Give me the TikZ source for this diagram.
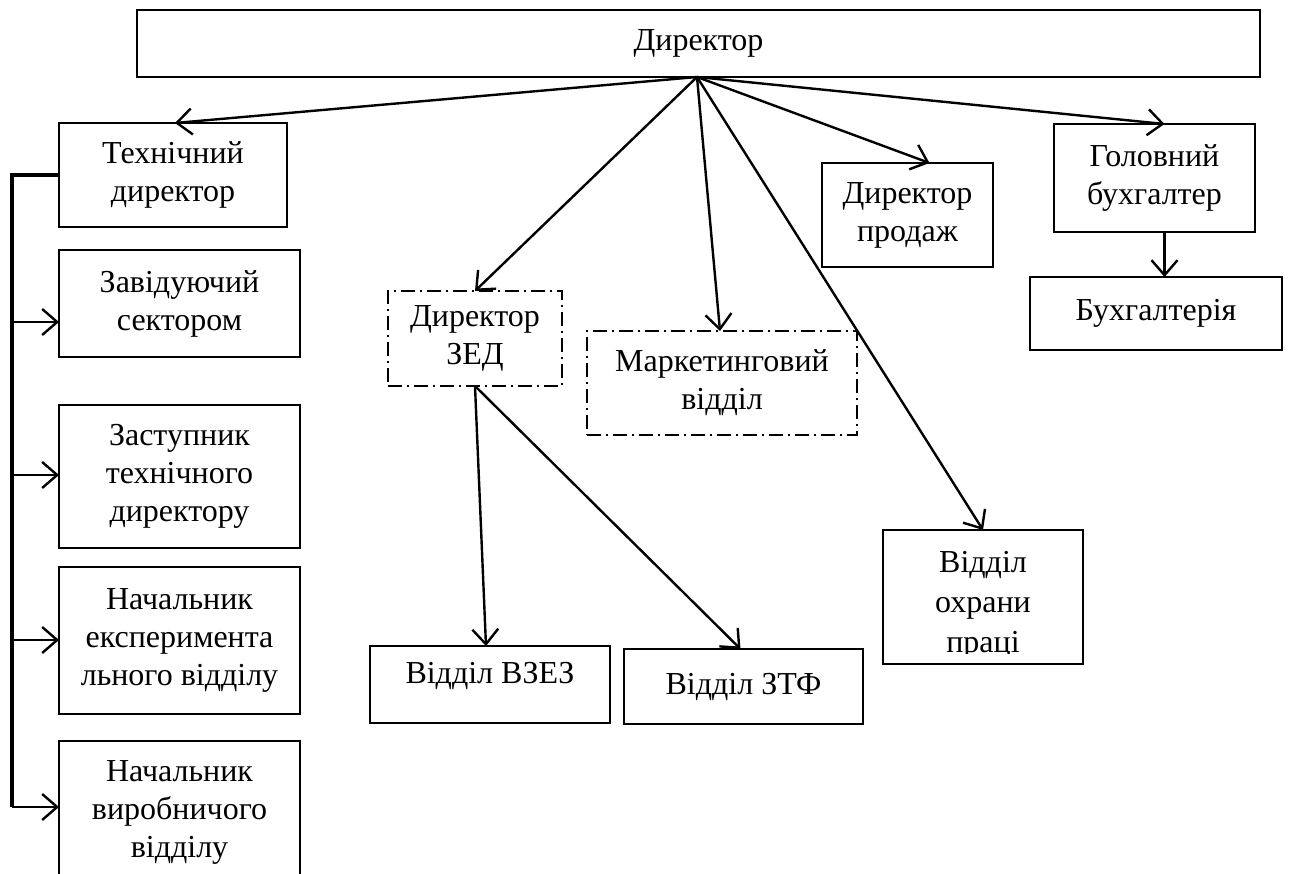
\documentclass[tikz,border=0pt]{standalone}
\usepackage{fontspec}
\setmainfont{Liberation Serif}
\usetikzlibrary{arrows.meta}
\newcommand\fsz{\fontsize{32}{38}\selectfont}
\newcommand\fszw{\fontsize{32}{40}\selectfont}
\tikzset{
  box/.style={draw, line width=2pt, inner sep=0pt, outer sep=0pt, align=center, font=\fsz},
  dbox/.style={box, dash pattern=on 14pt off 5pt on 2pt off 5pt},
  txt/.style={inner sep=0pt, align=center, font=\fsz},
  conn/.style={line width=2.4pt, -{Straight Barb[length=15pt,width=26pt]}},
  bracket/.style={line width=3.4pt}
}
\begin{document}
\begin{tikzpicture}[x=1pt,y=-1pt]
\useasboundingbox (0,0) rectangle (1292,874);
\clip (0,0) rectangle (1292,874);
% top
\node[box, minimum width=1123pt, minimum height=67pt] (dir) at (698.5,43.5) {Директор};
\coordinate (hub) at (697,77);
% left column
\node[box, minimum width=228pt, minimum height=104pt] (tech) at (173,175) {Технічний\\директор};
\node[box, minimum width=241pt, minimum height=107pt] (zav) at (179.5,303.5) {Завідуючий\\сектором};
\node[box, minimum width=241pt, minimum height=143pt] (zast) at (179.5,476.5) {Заступник\\технічного\\директору};
\node[box, minimum width=241pt, minimum height=147pt] (exp) at (179.5,640.5) {Начальник\\експеримента\\льного відділу};
\node[box, minimum width=241pt, minimum height=143pt] (vyr) at (179.5,812.5) {Начальник\\виробничого\\відділу};
% middle
\node[dbox, minimum width=174pt, minimum height=95pt] (zed) at (475,338.5) {Директор\\ЗЕД};
\node[dbox, minimum width=270pt, minimum height=104pt] (mark) at (722,383) {Маркетинговий\\відділ};
\node[box, minimum width=171pt, minimum height=104pt] (prod) at (907.5,215) {Директор\\продаж};
\node[box, minimum width=201pt, minimum height=108pt] (gb) at (1154.5,178) {Головний\\бухгалтер};
\node[box, minimum width=252pt, minimum height=73pt] (buh) at (1156,313.5) {Бухгалтерія};
\node[box, minimum width=200pt, minimum height=134pt] (okh) at (983,597) {};
\begin{scope}
  \clip ([shift={(2pt,2pt)}]okh.north west) rectangle (1081,653);
  \node[txt, font=\fszw] (okht) at (983,605) {Відділ\\охрани\\праці};
\end{scope}
\node[box, minimum width=240pt, minimum height=77pt] (vzez) at (490,684.5) {};
\node[txt] (vzezt) at (490,676) {Відділ ВЗЕЗ};
\node[box, minimum width=239pt, minimum height=75pt] (ztf) at (743.5,686.5) {Відділ ЗТФ};
% connectors from director
\draw[conn] (hub) -- ([xshift=2pt]tech.north);
\draw[conn] (hub) -- (zed.north);
\draw[conn] (hub) -- ([xshift=-2pt]mark.north);
\draw[conn] (hub) -- (okh.north);
\draw[conn] (hub) -- ([xshift=22pt]prod.north);
\draw[conn] (hub) -- ([xshift=10pt]gb.north);
\draw[conn] ([xshift=10pt]gb.south) -- ([xshift=10pt]gb.south |- buh.north);
% ZED subordinates
\draw[conn] (zed.south) -- ([xshift=-4pt]vzez.north);
\draw[conn] (zed.south) -- ([xshift=-3pt]ztf.north);
% left bracket
\coordinate (btop) at (12,175);
\coordinate (b1) at (12,322);
\coordinate (b2) at (12,475);
\coordinate (b3) at (12,640);
\coordinate (b4) at (12,807);
\draw[bracket] (tech.west) -- (btop) -- (b4);
\draw[conn] (b1) -- (b1 -| zav.west);
\draw[conn] (b2) -- (b2 -| zast.west);
\draw[conn] (b3) -- (b3 -| exp.west);
\draw[conn] (b4) -- (b4 -| vyr.west);
\end{tikzpicture}
\end{document}
